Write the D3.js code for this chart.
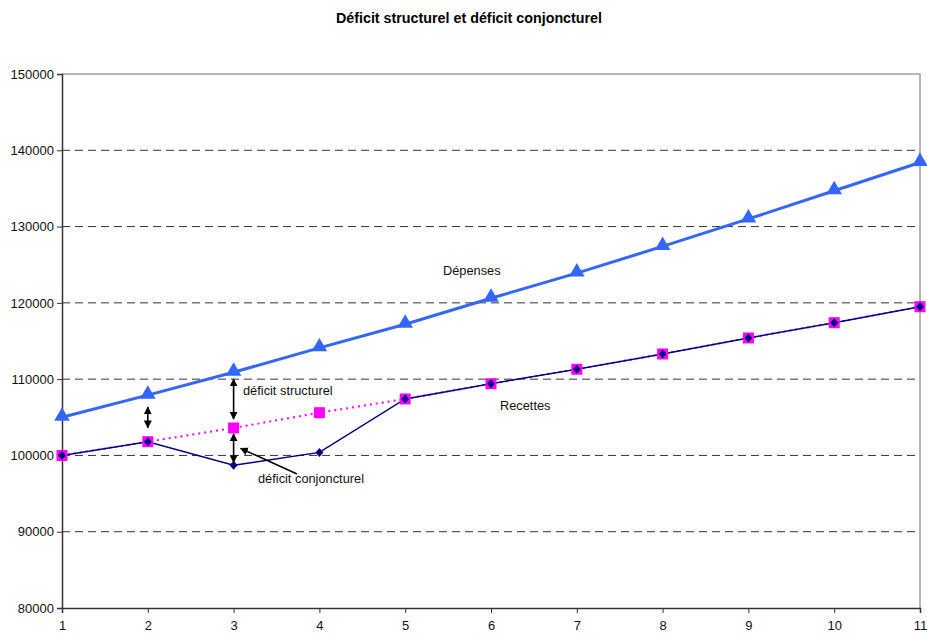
<!DOCTYPE html>
<html>
<head>
<meta charset="utf-8">
<script src="https://cdn.jsdelivr.net/npm/d3@7/dist/d3.min.js"></script>
<style>
  body { margin: 0; background: #fff; }
  svg { display: block; font-family: "Liberation Sans", Arial, sans-serif; }
</style>
</head>
<body>
<svg id="chart" width="927" height="635"></svg>
<script>
// Periods on the horizontal axis
const periods = [1, 2, 3, 4, 5, 6, 7, 8, 9, 10, 11];
// Public spending
const depenses = [105000, 107900, 110900, 114100, 117200, 120600, 123900, 127400, 131000, 134700, 138400];
// Actual revenue (with the cyclical dip)
const recettes = [100000, 101800, 98700, 100400, 107400, 109400, 111300, 113300, 115400, 117400, 119500];
// Trend revenue (potential growth path)
const recettesTendance = [100000, 101800, 103600, 105600, 107400, 109400, 111300, 113300, 115400, 117400, 119500];
const yTicks = [80000, 90000, 100000, 110000, 120000, 130000, 140000, 150000];

const svg = d3.select("#chart");
const margin = { left: 62, right: 7, top: 74, bottom: 27 };
const W = 927, H = 635;

const x = d3.scaleLinear().domain([1, 11]).range([margin.left, W - margin.right]);
const y = d3.scaleLinear().domain([80000, 150000]).range([H - margin.bottom, margin.top]);

// Title
svg.append("text")
  .attr("x", 469).attr("y", 23)
  .attr("text-anchor", "middle")
  .attr("font-size", 14.3).attr("font-weight", "bold")
  .text("Déficit structurel et déficit conjoncturel");

// Horizontal dashed gridlines
svg.append("g").selectAll("line")
  .data(yTicks.filter(t => t > 80000 && t < 150000))
  .join("line")
  .attr("x1", x(1)).attr("x2", x(11))
  .attr("y1", d => y(d)).attr("y2", d => y(d))
  .attr("stroke", "#333").attr("stroke-width", 1)
  .attr("stroke-dasharray", "8,5");

// Plot frame: top and right edges
svg.append("path")
  .attr("d", `M${x(1)},${y(150000)}H${x(11)}V${y(80000)}`)
  .attr("fill", "none").attr("stroke", "#a0a0a0").attr("stroke-width", 1.5);

// Axes
const yAxis = svg.append("g")
  .attr("transform", `translate(${x(1)},0)`)
  .call(d3.axisLeft(y).tickValues(yTicks).tickSize(5).tickPadding(3).tickFormat(d3.format("d")));
const xAxis = svg.append("g")
  .attr("transform", `translate(0,${y(80000)})`)
  .call(d3.axisBottom(x).tickValues(periods).tickSize(5).tickPadding(8).tickFormat(d3.format("d")));
[yAxis, xAxis].forEach(a => {
  a.select(".domain").attr("stroke", "#333").attr("stroke-width", 1.5);
  a.selectAll(".tick line").attr("stroke", "#333");
  a.selectAll(".tick text").attr("font-size", 13).attr("fill", "#111")
    .attr("font-family", "Liberation Sans, Arial, sans-serif");
});

const line = d3.line().x((d, i) => x(periods[i])).y(d => y(d));

// Trend revenue: dotted line over the dip
svg.append("path")
  .datum(recettesTendance)
  .attr("d", line)
  .attr("fill", "none").attr("stroke", "#ff00ff").attr("stroke-width", 2)
  .attr("stroke-dasharray", "2,4");

// Actual revenue line
svg.append("path")
  .datum(recettes)
  .attr("d", line)
  .attr("fill", "none").attr("stroke", "#000080").attr("stroke-width", 1.5);

// Spending line
svg.append("path")
  .datum(depenses)
  .attr("d", line)
  .attr("fill", "none").attr("stroke", "#3366ff").attr("stroke-width", 3);

// Trend revenue square markers
svg.append("g").selectAll("rect")
  .data(recettesTendance)
  .join("rect")
  .attr("x", (d, i) => x(periods[i]) - 5.5)
  .attr("y", d => y(d) - 5.5)
  .attr("width", 11).attr("height", 11)
  .attr("fill", "#ff00ff");

// Actual revenue diamond markers
svg.append("g").selectAll("path")
  .data(recettes)
  .join("path")
  .attr("transform", (d, i) => `translate(${x(periods[i])},${y(d)})`)
  .attr("d", "M0,-4.5L4,0L0,4.5L-4,0Z")
  .attr("fill", "#000080");

// Spending triangle markers
const tri = d3.symbol().type(d3.symbolTriangle).size(105);
svg.append("g").selectAll("path")
  .data(depenses)
  .join("path")
  .attr("transform", (d, i) => `translate(${x(periods[i])},${y(d) - 1})`)
  .attr("d", tri)
  .attr("fill", "#3366ff");

// Arrowheads for the annotations
const defs = svg.append("defs");
defs.append("marker")
  .attr("id", "head")
  .attr("viewBox", "0 0 10 10")
  .attr("refX", 9).attr("refY", 5)
  .attr("markerWidth", 8).attr("markerHeight", 9)
  .attr("orient", "auto-start-reverse")
  .attr("markerUnits", "userSpaceOnUse")
  .append("path").attr("d", "M0,0L10,5L0,10z").attr("fill", "#000");

function doubleArrow(xv, yTop, yBot) {
  svg.append("line")
    .attr("x1", x(xv)).attr("x2", x(xv))
    .attr("y1", yTop).attr("y2", yBot)
    .attr("stroke", "#000").attr("stroke-width", 1.6)
    .attr("marker-start", "url(#head)").attr("marker-end", "url(#head)");
}
// Structural gap at period 2
doubleArrow(2, y(depenses[1]) + 12, y(recettesTendance[1]) - 14);
// Structural gap at period 3
doubleArrow(3, y(depenses[2]) + 7, y(recettesTendance[2]) - 9);
// Cyclical gap at period 3
doubleArrow(3, y(recettesTendance[2]) + 6, y(recettes[2]) - 3);

// Pointer from the cyclical label
svg.append("line")
  .attr("x1", 297).attr("y1", 474)
  .attr("x2", x(3) + 7).attr("y2", y(recettes[2]) - 17)
  .attr("stroke", "#000").attr("stroke-width", 1.5)
  .attr("marker-end", "url(#head)");

// Labels
const labels = [
  { t: "Dépenses", x: 443, y: 275 },
  { t: "déficit structurel", x: 243, y: 395 },
  { t: "Recettes", x: 500, y: 410 },
  { t: "déficit conjoncturel", x: 258, y: 483 }
];
svg.append("g").selectAll("text")
  .data(labels)
  .join("text")
  .attr("x", d => d.x).attr("y", d => d.y)
  .attr("font-size", 12.8).attr("fill", "#111")
  .text(d => d.t);
</script>
</body>
</html>
